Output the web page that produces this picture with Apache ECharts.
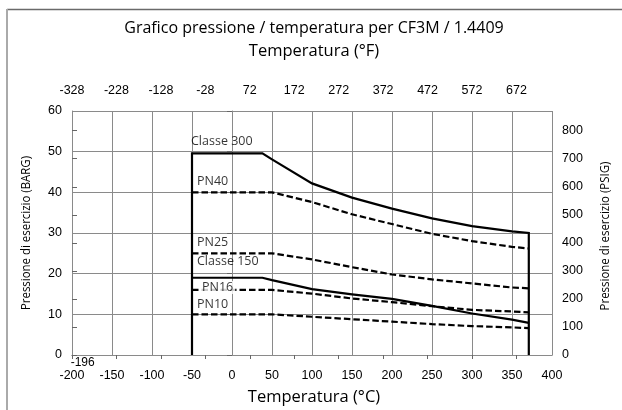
<!DOCTYPE html>
<html><head><meta charset="utf-8">
<script src="https://cdn.jsdelivr.net/npm/echarts@6/dist/echarts.min.js"></script>
<style>html,body{margin:0;padding:0;background:#fff}#c{width:622px;height:410px}</style>
</head><body><div id="c"></div>
<script>
// ---- data ----
const class300Temp = [-50, -50, 38, 50, 100, 150, 200, 250, 300, 350, 371, 371];
const class300Bar  = [0, 49.6, 49.6, 48.1, 42.2, 38.7, 36.0, 33.6, 31.7, 30.4, 30.0, 0];
const class150Temp = [-50, 38, 50, 100, 150, 200, 250, 300, 350, 371];
const class150Bar  = [19.0, 19.0, 18.4, 16.2, 14.9, 13.8, 12.1, 10.2, 8.7, 7.9];
const pnTemp = [-50, 50, 100, 150, 200, 250, 300, 350, 371];
const pn40 = [40, 40, 37.6, 34.6, 32.2, 29.8, 28.0, 26.6, 26.2];
const pn25 = [25, 25, 23.5, 21.6, 19.8, 18.6, 17.6, 16.6, 16.4];
const pn16 = [16, 16, 15.1, 13.9, 13.0, 12.0, 11.1, 10.7, 10.5];
const pn10 = [10, 10, 9.4, 8.8, 8.2, 7.6, 7.1, 6.8, 6.6];
const labelNames = ['Classe 300', 'PN40', 'PN25', 'Classe 150', 'PN16', 'PN10'];
const labelTemp  = [-50, -50, -50, -50, -50, -50];
const labelBar   = [49.6, 40, 25, 19, 16, 10];
const fLabels = [-328, -228, -128, -28, 72, 172, 272, 372, 472, 572, 672];
const minNote = { text: '-196', temp: -196, bar: 0 };
const titleText = 'Grafico pressione / temperatura per CF3M / 1.4409';
const topAxisName = 'Temperatura (°F)';
const bottomAxisName = 'Temperatura (°C)';
const leftAxisName = 'Pressione di esercizio (BARG)';
const rightAxisName = 'Pressione di esercizio (PSIG)';
const BAR_TO_PSI = 14.5038;

// ---- chart ----
const HF = '"Open Sans", "Noto Sans", sans-serif';
const AF = '"Liberation Sans", Arial, sans-serif';
const zip = (a, b) => a.map((v, i) => [v, b[i]]);
const grid = '#8a8a8a';
const chart = echarts.init(document.getElementById('c'), null, {renderer: 'canvas'});
const solid = {color: '#000', width: 2.2, type: 'solid', cap: 'butt', join: 'miter'};
const dashed = {color: '#000', width: 2.2, type: [6.5, 3], cap: 'butt'};
const lineSeries = (name, data, style) => ({
  name, type: 'line', data, xAxisIndex: 0, yAxisIndex: 0, symbol: 'none',
  lineStyle: style, silent: true, animation: false, z: 3
});
const labelOffsets = [[-1, -11.5], [5, -10.5], [5, -10.5], [5, -16], [8, -2.5], [5, -10.3]];
const fMin = fLabels[0];
const fMax = 400 * 9 / 5 + 32;

const baseGraphics = [
  {type: 'line', shape: {x1: 7, y1: 9.5, x2: 622, y2: 9.5}, style: {stroke: '#6a6a6a', lineWidth: 1.5}, silent: true},
  {type: 'line', shape: {x1: 7, y1: 9, x2: 7, y2: 410}, style: {stroke: '#aaa', lineWidth: 2}, silent: true},
  {type: 'text', x: 314, y: 28, style: {text: titleText, font: '16px ' + HF, fill: '#000', textAlign: 'center', textVerticalAlign: 'middle'}, silent: true},
  {type: 'text', x: 314, y: 51, style: {text: topAxisName, font: '16.5px ' + HF, fill: '#000', textAlign: 'center', textVerticalAlign: 'middle'}, silent: true},
  {type: 'text', x: 314, y: 397, style: {text: bottomAxisName, font: '16.5px ' + HF, fill: '#000', textAlign: 'center', textVerticalAlign: 'middle'}, silent: true},
  {type: 'text', x: 26, y: 233, rotation: Math.PI / 2, scaleX: 0.88, style: {text: leftAxisName, font: '13px ' + HF, fill: '#000', textAlign: 'center', textVerticalAlign: 'middle'}, silent: true},
  {type: 'text', x: 605, y: 236, rotation: Math.PI / 2, scaleX: 0.88, style: {text: rightAxisName, font: '13px ' + HF, fill: '#000', textAlign: 'center', textVerticalAlign: 'middle'}, silent: true}
];

chart.setOption({
  animation: false,
  backgroundColor: '#fff',
  grid: {left: 72, top: 111, width: 480, height: 244, containLabel: false},
  xAxis: [{
    type: 'value', position: 'bottom', min: -200, max: 400, interval: 50,
    axisLine: {show: true, lineStyle: {color: grid, width: 1}},
    axisTick: {show: false},
    splitLine: {show: true, lineStyle: {color: grid, width: 1}},
    axisLabel: {color: '#000', fontFamily: AF, fontSize: 12.5, margin: 14}
  }, {
    type: 'value', position: 'top', min: 0, max: fMax - fMin, interval: 100,
    axisLine: {show: true, lineStyle: {color: grid, width: 1}},
    axisTick: {show: true, inside: true, length: 4, lineStyle: {color: '#666'}},
    splitLine: {show: false},
    axisLabel: {color: '#000', fontFamily: AF, fontSize: 12.5, margin: 14, showMaxLabel: false,
      formatter: v => { const i = Math.round(v / 100); return (Math.abs(v - i * 100) < 1e-6 && fLabels[i] !== undefined) ? String(fLabels[i]) : ''; }}
  }],
  yAxis: [{
    type: 'value', position: 'left', min: 0, max: 60, interval: 10,
    axisLine: {show: true, lineStyle: {color: grid, width: 1}},
    axisTick: {show: true, inside: false, length: 5, lineStyle: {color: '#666'}},
    splitLine: {show: true, lineStyle: {color: grid, width: 1}},
    axisLabel: {color: '#000', fontFamily: AF, fontSize: 12.5, margin: 10}
  }, {
    type: 'value', position: 'right', min: 0, max: 60 * BAR_TO_PSI, interval: 100,
    axisLine: {show: true, lineStyle: {color: grid, width: 1}},
    axisTick: {show: true, inside: false, length: 5, lineStyle: {color: '#666'}},
    splitLine: {show: false},
    axisLabel: {color: '#000', fontFamily: AF, fontSize: 12.5, margin: 10, showMaxLabel: false,
      formatter: v => (Math.abs(v % 100) < 1e-6 ? String(v) : '')}
  }],
  graphic: baseGraphics,
  series: [
    lineSeries('Classe 300', zip(class300Temp, class300Bar), solid),
    lineSeries('Classe 150', zip(class150Temp, class150Bar), solid),
    lineSeries('PN40', zip(pnTemp, pn40), dashed),
    lineSeries('PN25', zip(pnTemp, pn25), dashed),
    lineSeries('PN16', zip(pnTemp, pn16), dashed),
    lineSeries('PN10', zip(pnTemp, pn10), dashed),
    {
      type: 'scatter', symbolSize: 0, silent: true, z: 5,
      data: labelNames.map((n, i) => ({
        value: [labelTemp[i], labelBar[i]],
        label: {show: true, position: 'right', distance: 0, formatter: n,
          offset: labelOffsets[i], color: '#000', fontFamily: HF, fontSize: 12.5,
          backgroundColor: n === 'PN16' ? '#fff' : 'transparent', padding: n === 'PN16' ? [0, 2] : 0}
      }))
    }
  ]
});

// "-196" note placed through the library's own scale
const p = chart.convertToPixel({gridIndex: 0}, [minNote.temp, minNote.bar]);
chart.setOption({
  graphic: baseGraphics.concat([{
    type: 'text', x: p[0] - 4.5, y: p[1] + 1.5, silent: true, z: 10,
    style: {text: minNote.text, font: '12px ' + AF, fill: '#000', textAlign: 'left', textVerticalAlign: 'top'}
  }])
});
</script>
</body></html>
